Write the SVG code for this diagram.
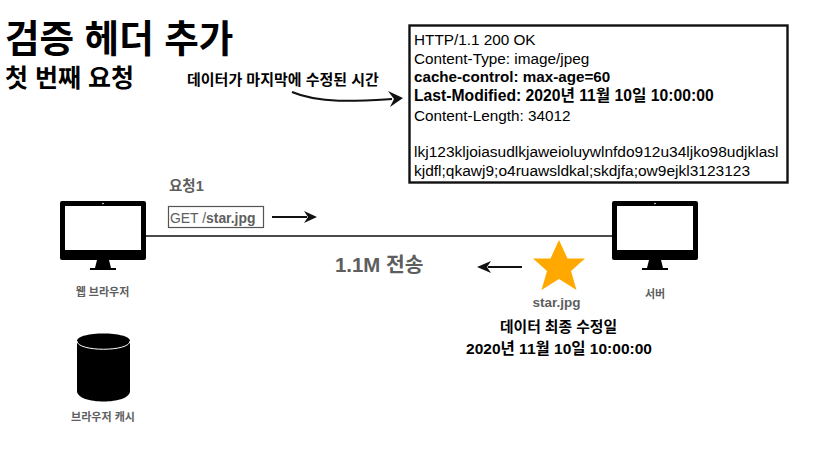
<svg xmlns="http://www.w3.org/2000/svg" width="826" height="460" viewBox="0 0 826 460">
<style>
text{font-family:"Liberation Sans","Noto Sans CJK KR",sans-serif;fill:#000}
.b{font-weight:700}
.g{fill:#5e5e5e}
.m{font-size:15.300px}
.l{font-size:15.500px}
.c{text-anchor:middle}
.line{fill:none;stroke:#111;stroke-width:1.6}
.arrow{fill:none;stroke:#111;stroke-width:2}
.head{fill:#111}
</style>
<rect width="826" height="460" fill="#fff"/>
<g id="title"><text class="b" x="5" y="52" font-size="37.600">검증 헤더 추가</text></g>
<g id="subtitle"><text class="b" x="5" y="87" font-size="25">첫 번째 요청</text></g>
<g id="note"><text class="b" x="187" y="85" font-size="15">데이터가 마지막에 수정된 시간</text></g>
<g id="response">
<rect x="409.500" y="25.500" width="378" height="157" fill="#fff" stroke="#111" stroke-width="2.400"/>
<text class="m" x="414" y="45">HTTP/1.1 200 OK</text>
<text class="m" x="414" y="64">Content-Type: image/jpeg</text>
<text class="b" x="414" y="82" font-size="15.200">cache-control: max-age=60</text>
<text class="b" x="414" y="101" font-size="15.700">Last-Modified: 2020년 11월 10일 10:00:00</text>
<text class="m" x="414" y="121">Content-Length: 34012</text>
<text class="l" x="414" y="157">lkj123kljoiasudlkjaweioluywlnfdo912u34ljko98udjklasl</text>
<text class="l" x="414" y="176">kjdfl;qkawj9;o4ruawsldkal;skdjfa;ow9ejkl3123123</text>
</g>
<g id="request-label"><text class="b g" x="169" y="191" font-size="14.500">요청1</text></g>
<g id="request">
<rect x="168.500" y="206.500" width="95" height="21" fill="#fff" stroke="#555" stroke-width="1.200"/>
<text x="170" y="223" font-size="13.900" class="g">GET /<tspan class="b">star.jpg</tspan></text>
</g>
<g id="browser">
<rect x="60" y="201" width="86" height="59" rx="2" fill="#000"/>
<rect x="65" y="206" width="76" height="44" fill="#fff"/>
<circle cx="103" cy="203.500" r=".8" fill="#fff"/>
<path d="M97 260H109L111 268H116V270H90V268H95Z" fill="#000"/>
<text class="b g c" x="102.500" y="296" font-size="11">웹 브라우저</text>
</g>
<g id="server">
<rect x="612" y="201" width="86" height="59" rx="2" fill="#000"/>
<rect x="617" y="206" width="76" height="44" fill="#fff"/>
<circle cx="655" cy="203.500" r=".8" fill="#fff"/>
<path d="M649 260H661L663 268H668V270H642V268H647Z" fill="#000"/>
<text class="b g c" x="655" y="298" font-size="11">서버</text>
</g>
<g id="cache">
<path d="M77 341C77 331 130 331 130 341V391C130 405 77 405 77 391Z" fill="#000"/>
<path d="M77 341C77 352 130 352 130 341" fill="none" stroke="#fff" stroke-width="1"/>
<text class="b g c" x="103" y="421" font-size="11">브라우저 캐시</text>
</g>
<g id="star-file">
<path d="M559 240L567.500 258.500L585 258.500L571 271L576.500 290L559 279L541.500 290L547 271L533 258.500L550.500 258.500Z" fill="#ffa900"/>
<text class="b g c" x="556.500" y="307" font-size="13.500">star.jpg</text>
</g>
<g id="transfer-label"><text class="b g" x="335" y="272" font-size="20.400">1.1M 전송</text></g>
<g id="modified">
<text class="b c" x="558.500" y="332" font-size="14.800">데이터 최종 수정일</text>
<text class="b c" x="559" y="354" font-size="15.500">2020년 11월 10일 10:00:00</text>
</g>
<g id="connectors">
<path class="line" d="M146 236H612"/>
<path class="arrow" d="M292 92C320 104 360 101 392 99"/>
<path class="head" d="M388 91L403 98L390 107L394 99Z"/>
<path class="arrow" d="M272 217H307"/>
<path class="head" d="M304 211L317 217L304 223L308 217Z"/>
<path class="arrow" d="M522 267H488"/>
<path class="head" d="M491 261L477 267L491 273L487 267Z"/>
</g>
</svg>
